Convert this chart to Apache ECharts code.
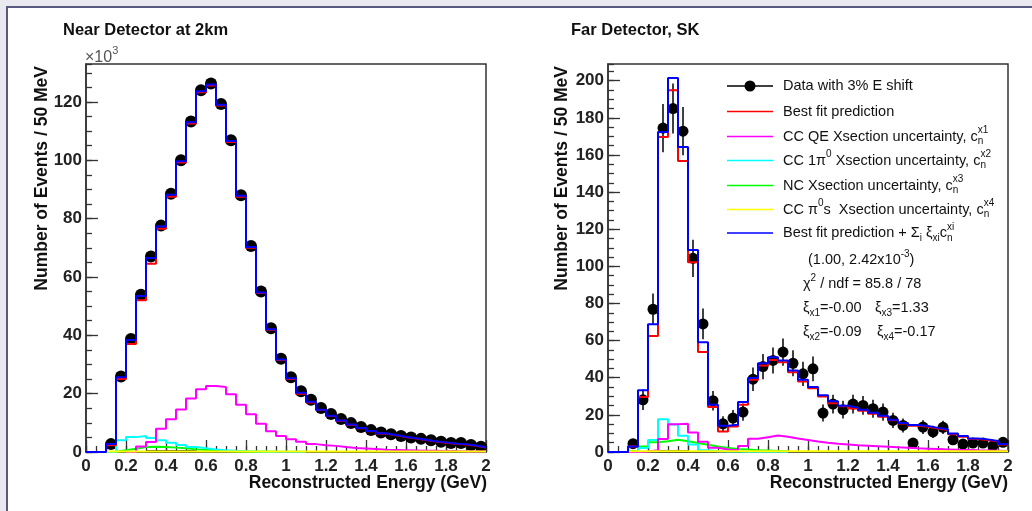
<!DOCTYPE html>
<html><head><meta charset="utf-8">
<script src="https://cdn.jsdelivr.net/npm/echarts@6/dist/echarts.min.js"></script>
<style>
html,body{margin:0;padding:0;background:#e9e9ef;overflow:hidden;}
#frame{position:absolute;left:6px;top:6px;width:1030px;height:510px;background:#fff;border-left:2px solid #5a5a80;border-top:2px solid #5a5a80;}
#c{position:absolute;left:0;top:0;width:1032px;height:511px;}
</style>
</head><body><div id="frame"></div><div id="c"></div>
<script>
// ---------- DATA ----------
// 40 bins of 50 MeV from 0 to 2 GeV
const binEdges = Array.from({length: 41}, (_, i) => +(i * 0.05).toFixed(2));

// Near detector (x10^3 events / 50 MeV)
const nearData    = [null,null,2.7,25.9,38.7,53.9,67.0,77.6,88.5,100.0,113.3,124.0,126.3,119.3,106.9,88.0,70.6,55.0,42.4,32.0,25.6,20.8,17.9,15.1,13.0,11.3,9.9,8.6,7.5,6.7,6.1,5.5,5.0,4.5,4.0,3.5,3.1,3.1,2.4,1.8];
const nearBestFit = [0,0,2.3,25.0,37.0,52.0,64.5,76.5,87.5,99.2,112.6,123.3,125.6,118.8,106.3,87.5,70.0,54.5,41.9,31.5,25.0,20.0,17.0,14.4,12.3,10.7,9.3,8.1,7.1,6.3,5.7,5.1,4.6,4.1,3.6,3.2,2.8,2.6,2.1,1.5];
const nearFitPlus = [0,0,2.7,25.6,38.4,53.5,66.5,77.3,88.2,99.7,113.0,123.7,126.0,119.0,106.6,87.8,70.3,54.7,42.1,31.7,25.3,20.3,17.2,14.5,12.4,10.8,9.4,8.2,7.2,6.4,5.8,5.2,4.7,4.2,3.7,3.3,2.9,2.7,2.2,1.6];
const nearCCQE    = [null,null,null,null,0,1.9,3.4,8.0,11.2,14.6,18.3,21.5,22.6,22.3,19.8,16.2,12.9,9.7,7.1,5.5,4.4,3.5,2.7,2.3,2.1,1.7,1.4,1.2,1.0,0.8,0.7,0.6,0.5,0.4,0.4,0.3,0.3,0.2,0.2,0.2];
const nearCC1pi   = [null,null,0,4.0,5.1,5.5,4.8,4.0,3.2,2.4,1.7,1.3,0.9,0.6,0.4,0.3,0.2,0.1,0.1,0.1,0.1,0.1,null,null,null,null,null,null,null,null,null,null,null,null,null,null,null,null,null,null];
const nearNC      = [null,null,0,0.6,1.1,1.7,1.8,1.7,1.5,1.3,0.9,0.7,0.5,0.3,0.2,0.1,0.1,0.1,0.1,null,null,null,null,null,null,null,null,null,null,null,null,null,null,null,null,null,null,null,null,null];
const nearCCpi0   = [null,null,0.15,0.15,0.15,0.15,0.15,0.15,0.15,0.15,0.15,0.15,0.15,0.15,0.15,0.15,0.15,0.15,0.15,0.15,0.15,0.15,0.15,0.15,0.15,0.15,0.15,0.15,0.15,0.15,0.15,0.15,0.15,0.15,0.15,0.15,0.15,0.15,0.15,0.15];
const nearBlack   = [null,null,null,null,null,null,0.25,0.25,0.25,0.25,0.25,null,null,null,null,null,null,null,null,null,null,null,null,null,null,null,null,null,null,null,null,null,null,null,null,null,null,null,null,null];

// Far detector (events / 50 MeV)
const farData     = [null,null,4.5,28.1,76.9,174.5,185.0,172.8,104.3,69.0,27.6,15.2,18.3,21.5,39.2,46.0,49.3,53.8,47.8,42.1,44.8,21.0,25.8,22.8,25.8,25.1,23.3,21.5,17.0,14.3,4.8,13.4,10.8,13.3,6.6,4.3,4.8,4.8,3.4,5.2];
const farDataErr  = [null,null,2.0,5.5,8.5,13.0,13.5,13.0,10.0,8.3,5.3,4.0,4.3,4.6,6.3,6.8,7.0,7.3,7.0,6.5,6.7,4.6,5.0,4.8,5.0,5.0,4.8,4.6,4.1,3.8,2.2,3.7,3.3,3.6,2.6,2.1,2.2,2.2,1.8,2.3];
const farBestFit  = [0,0,3.0,29.6,62.5,169.7,194.8,156.8,102.2,53.8,24.2,11.1,13.8,25.4,38.9,46.6,49.6,48.4,43.0,38.0,34.4,29.9,26.3,24.6,23.4,22.2,20.6,19.0,17.1,15.3,14.1,13.6,12.6,11.8,9.6,8.2,7.0,6.5,5.6,4.0];
const farFitPlus  = [0,0,3.0,33.2,68.8,172.4,201.4,164.3,108.8,59.1,25.4,14.2,14.7,26.9,39.8,47.8,51.0,49.3,43.9,38.9,35.0,30.6,27.4,24.9,23.9,22.7,21.1,19.5,17.4,15.6,14.5,14.0,13.0,12.2,10.0,8.6,7.3,6.8,5.9,4.3];
const farCCQE     = [null,null,0,0.3,1.0,7.0,15.0,15.2,10.5,5.5,2.3,1.3,0.9,3.2,7.1,8.0,8.9,8.2,7.3,6.5,5.7,5.0,4.5,4.1,3.7,3.4,3.1,2.8,2.5,2.3,2.0,1.8,1.6,1.4,1.2,1.1,0.9,0.8,0.7,0.6];
const farCC1pi    = [null,null,0,2.2,6.5,17.6,14.8,8.8,4.0,0.9,0.4,0.3,0.3,0.2,0.2,0.2,0.1,0.1,null,null,null,null,null,null,null,null,null,null,null,null,null,null,null,null,null,null,null,null,null,null];
const farNC       = [null,null,0.5,3.0,5.2,5.8,6.6,5.8,4.8,3.9,3.0,2.2,1.6,1.3,1.0,0.8,0.6,0.5,null,null,null,null,null,null,null,null,null,null,null,null,null,null,null,null,null,null,null,null,null,null];
const farCCpi0    = [null,null,0.4,0.4,0.4,0.4,0.4,0.4,0.4,0.4,0.4,0.4,0.4,0.4,0.4,0.4,0.4,0.4,0.4,0.4,0.4,0.4,0.4,0.4,0.4,0.4,0.4,0.4,0.4,0.4,0.4,0.4,0.4,0.4,0.4,0.4,0.4,0.4,0.4,0.4];
const farBlack    = [null,null,null,null,null,0.4,0.4,0.4,null,null,null,null,null,null,null,null,null,null,null,null,null,null,null,null,null,null,null,null,null,null,null,null,null,null,null,null,null,null,null,null];

// ---------- HELPERS ----------
const FONT = 'Liberation Sans';
const COLORS = {data:'#000000', best:'#ff0000', ccqe:'#ff00ff', cc1pi:'#00ffff', nc:'#00ff00', ccpi0:'#ffff00', plus:'#0000ff'};

function histPoints(vals){
  const pts = [];
  for (let i = 0; i < vals.length; i++){
    const v = vals[i];
    if (v === null) continue;
    pts.push([binEdges[i], v]);
    if (i === vals.length - 1 || vals[i+1] === null){
      pts.push([binEdges[i+1], v]);
      pts.push([binEdges[i+1], null]);
    }
  }
  return pts;
}
function centers(vals){
  const out = [];
  vals.forEach((v, i) => { if (v !== null) out.push([(binEdges[i] + binEdges[i+1]) / 2, v]); });
  return out;
}
function histSeries(vals, color, xi, yi, z, width){
  return {type:'line', xAxisIndex:xi, yAxisIndex:yi, data:histPoints(vals), step:'end',
    symbol:'none', showSymbol:false, connectNulls:false, clip:false, silent:true, z:z,
    lineStyle:{color:color, width:width || 2}};
}
function dataSeries(vals, xi, yi, size){
  return {type:'scatter', xAxisIndex:xi, yAxisIndex:yi, data:centers(vals), symbol:'circle',
    symbolSize:size, itemStyle:{color:'#000', opacity:1}, silent:true, z:3};
}
function errSeries(vals, errs, xi, yi){
  const d = [];
  vals.forEach((v, i) => { if (v !== null) d.push([(binEdges[i] + binEdges[i+1]) / 2, v - errs[i], v + errs[i]]); });
  return {type:'custom', xAxisIndex:xi, yAxisIndex:yi, data:d, silent:true, z:3,
    renderItem: function(params, api){
      const p1 = api.coord([api.value(0), api.value(1)]);
      const p2 = api.coord([api.value(0), api.value(2)]);
      return {type:'line', shape:{x1:p1[0], y1:p1[1], x2:p2[0], y2:p2[1]}, style:{stroke:'#000', lineWidth:1.5}};
    }};
}

const ctx = document.createElement('canvas').getContext('2d');
function tw(t, size){ ctx.font = size + 'px "' + FONT + '"'; return ctx.measureText(t).width; }
function composed(x, y, parts, base){
  base = base || 14.5;
  const els = []; let cx = x;
  parts.forEach(p => {
    const t = p[0], kind = p[1];
    let size = base, dy = 0, adv = true;
    if (kind === 'sub'){ size = 10; dy = 5; }
    if (kind === 'subs'){ size = 10; dy = 5; adv = false; }
    if (kind === 'sup'){ size = 10; dy = -6; }
    els.push({type:'text', x:cx, y:y + dy, silent:true,
      style:{text:t, fontSize:size, fontFamily:FONT, fill:'#111', align:'left', verticalAlign:'middle'}});
    if (adv) cx += tw(t, size);
  });
  return els;
}

// ---------- AXES ----------
const AX = '#333';
function xMajor(g){ return {type:'value', gridIndex:g, min:0, max:2, interval:0.2, position:'bottom',
  axisLine:{show:true, lineStyle:{color:AX, width:1.5}}, axisTick:{inside:true, length:12, lineStyle:{color:AX, width:1.3}},
  axisLabel:{fontSize:17, fontWeight:'bold', fontFamily:FONT, color:'#222', margin:6}, splitLine:{show:false}}; }
function xMinor(g){ return {type:'value', gridIndex:g, min:0, max:2, interval:0.05, position:'bottom',
  axisLine:{show:false}, axisTick:{inside:true, length:6, lineStyle:{color:AX, width:1.3}},
  axisLabel:{show:false}, splitLine:{show:false}}; }
function yMajor(g, max){ return {type:'value', gridIndex:g, min:0, max:max, interval:20, position:'left',
  axisLine:{show:true, lineStyle:{color:AX, width:1.5}}, axisTick:{inside:true, length:12, lineStyle:{color:AX, width:1.3}},
  axisLabel:{fontSize:17, fontWeight:'bold', fontFamily:FONT, color:'#222', margin:4, showMaxLabel:false}, splitLine:{show:false}}; }
function yMinor(g, max){ return {type:'value', gridIndex:g, min:0, max:max, interval:5, position:'left',
  axisLine:{show:false}, axisTick:{inside:true, length:6, lineStyle:{color:AX, width:1.3}},
  axisLabel:{show:false}, splitLine:{show:false}}; }

// ---------- GRAPHIC TEXT ----------
const g = [];
function txt(x, y, text, size, weight, align, color, rot){
  g.push({type:'text', x:x, y:y, rotation:rot || 0, silent:true,
    style:{text:text, fontSize:size, fontWeight:weight || 'normal', fontFamily:FONT, fill:color || '#111',
      align:align || 'left', verticalAlign:'middle'}});
}
txt(63, 30, 'Near Detector at 2km', 16.5, 'bold');
txt(571, 30, 'Far Detector, SK', 16.5, 'bold');
txt(42, 66, 'Number of Events / 50 MeV', 17.5, 'bold', 'right', '#111', Math.PI/2);
txt(562, 66, 'Number of Events / 50 MeV', 17.5, 'bold', 'right', '#111', Math.PI/2);
txt(487, 483, 'Reconstructed Energy (GeV)', 17.5, 'bold', 'right');
txt(1008, 483, 'Reconstructed Energy (GeV)', 17.5, 'bold', 'right');
txt(85, 58, '\u00d710', 16, 'normal', 'left', '#555');
txt(85 + tw('\u00d710', 16), 51, '3', 11, 'normal', 'left', '#555');

// legend
const legendRows = [
  {y:86,    color:COLORS.data,  marker:true, parts:[['Data with 3% E shift','']]},
  {y:111.5, color:COLORS.best,  parts:[['Best fit prediction','']]},
  {y:136.5, color:COLORS.ccqe,  parts:[['CC QE Xsection uncertainty, c',''],['n','subs'],['x1','sup']]},
  {y:160.5, color:COLORS.cc1pi, parts:[['CC 1\u03c0',''],['0','sup'],[' Xsection uncertainty, c',''],['n','subs'],['x2','sup']]},
  {y:185.5, color:COLORS.nc,    parts:[['NC Xsection uncertainty, c',''],['n','subs'],['x3','sup']]},
  {y:209.5, color:COLORS.ccpi0, parts:[['CC \u03c0',''],['0','sup'],['s  Xsection uncertainty, c',''],['n','subs'],['x4','sup']]},
  {y:233,   color:COLORS.plus,  parts:[['Best fit prediction + \u03a3',''],['i','sub'],[' \u03be',''],['xi','sub'],['c',''],['n','subs'],['xi','sup']]}
];
legendRows.forEach(r => {
  g.push({type:'line', silent:true, shape:{x1:727, y1:r.y, x2:773, y2:r.y}, style:{stroke:r.color, lineWidth:1.5}});
  if (r.marker) g.push({type:'circle', silent:true, shape:{cx:750, cy:r.y, r:5.5}, style:{fill:'#000'}});
  composed(783, r.y, r.parts).forEach(e => g.push(e));
});
const statRows = [
  {x:808, y:260, parts:[['(1.00, 2.42x10',''],['-3','sup'],[')','']]},
  {x:803, y:284, parts:[['\u03c7',''],['2','sup'],[' / ndf = 85.8 / 78','']]},
  {x:803, y:308, parts:[['\u03be',''],['x1','sub'],['=-0.00','']]},
  {x:875, y:308, parts:[['\u03be',''],['x3','sub'],['=1.33','']]},
  {x:803, y:332, parts:[['\u03be',''],['x2','sub'],['=-0.09','']]},
  {x:877, y:332, parts:[['\u03be',''],['x4','sub'],['=-0.17','']]}
];
statRows.forEach(r => composed(r.x, r.y, r.parts).forEach(e => g.push(e)));

// ---------- OPTION ----------
const option = {
  backgroundColor:'transparent',
  animation:false,
  grid:[
    {left:86, top:64, width:400, height:388, show:true, backgroundColor:'#fff', borderColor:AX, borderWidth:1.5},
    {left:608, top:64, width:400, height:388, show:true, backgroundColor:'#fff', borderColor:AX, borderWidth:1.5}
  ],
  xAxis:[xMajor(0), xMinor(0), xMajor(1), xMinor(1)],
  yAxis:[yMajor(0, 133), yMinor(0, 133), yMajor(1, 209), yMinor(1, 209)],
  series:[
    dataSeries(nearData, 0, 0, 12),
    histSeries(nearBlack, '#000', 0, 0, 4),
    histSeries(nearNC, COLORS.nc, 0, 0, 4),
    histSeries(nearCC1pi, COLORS.cc1pi, 0, 0, 4),
    histSeries(nearCCQE, COLORS.ccqe, 0, 0, 4),
    histSeries(nearCCpi0, COLORS.ccpi0, 0, 0, 4),
    histSeries(nearBestFit, COLORS.best, 0, 0, 5),
    histSeries(nearFitPlus, COLORS.plus, 0, 0, 6),

    errSeries(farData, farDataErr, 2, 2),
    dataSeries(farData, 2, 2, 11),
    histSeries(farBlack, '#000', 2, 2, 4),
    histSeries(farNC, COLORS.nc, 2, 2, 4),
    histSeries(farCC1pi, COLORS.cc1pi, 2, 2, 4),
    histSeries(farCCQE, COLORS.ccqe, 2, 2, 4),
    histSeries(farCCpi0, COLORS.ccpi0, 2, 2, 4),
    histSeries(farBestFit, COLORS.best, 2, 2, 5),
    histSeries(farFitPlus, COLORS.plus, 2, 2, 6)
  ],
  graphic:g
};
const chart = echarts.init(document.getElementById('c'), null, {renderer:'canvas'});
chart.setOption(option);
</script>
</body></html>
